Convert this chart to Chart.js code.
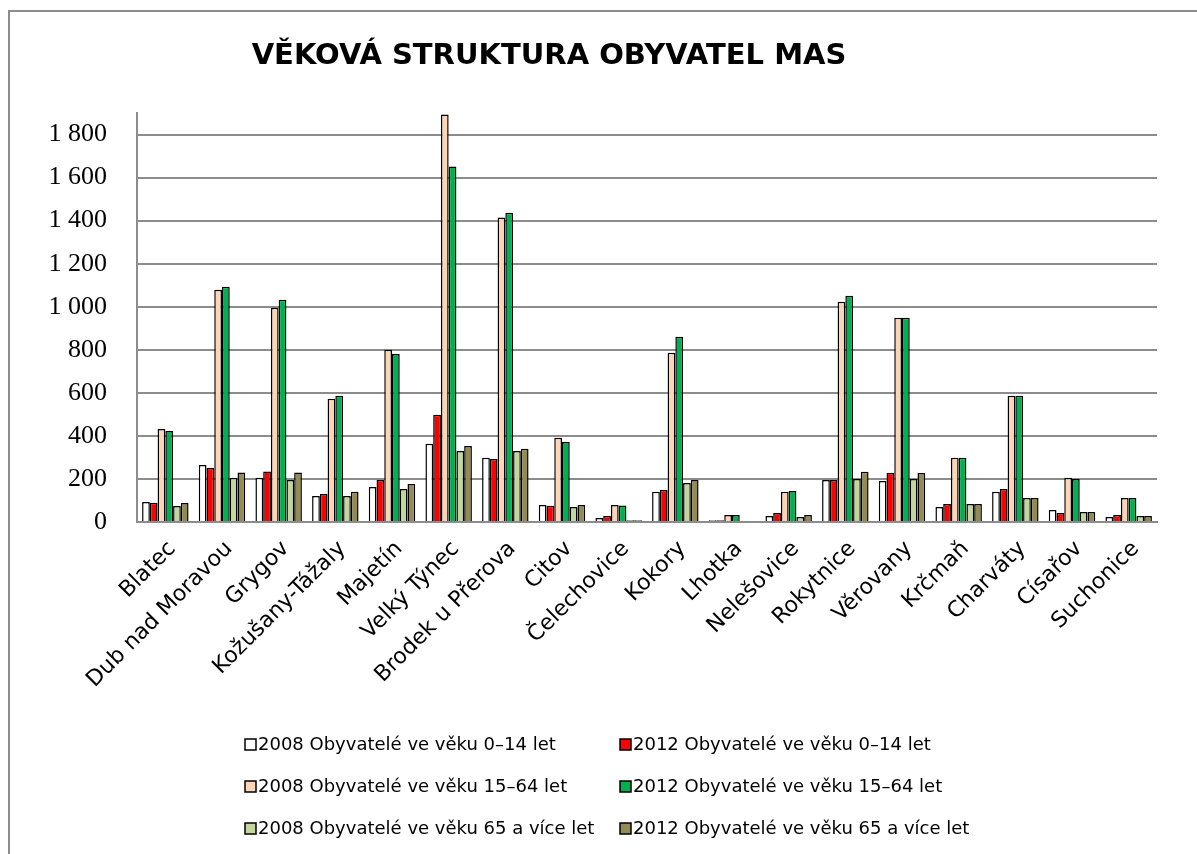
<!DOCTYPE html>
<html><head><meta charset="utf-8">
<script src="https://cdn.jsdelivr.net/npm/chart.js@4"></script>
<style>
html,body{margin:0;padding:0;background:#fff;overflow:hidden}
#wrap{position:relative;width:1197px;height:854px}
#frame{position:absolute;left:8px;top:10px;width:1300px;height:900px;border-left:2px solid #8c8c8c;border-top:2px solid #8c8c8c}
canvas{position:absolute;left:0;top:0}
</style></head><body>
<div id="wrap"><div id="frame"></div><canvas id="c" width="1197" height="854"></canvas></div>
<script>
const chartTitle = 'VĚKOVÁ STRUKTURA OBYVATEL MAS';
const categories = ['Blatec','Dub nad Moravou','Grygov','Kožušany-Tážaly','Majetín','Velký Týnec','Brodek u Přerova','Citov','Čelechovice','Kokory','Lhotka','Nelešovice','Rokytnice','Věrovany','Krčmaň','Charváty','Císařov','Suchonice'];
const seriesLabels = ['2008 Obyvatelé ve věku 0–14 let','2012 Obyvatelé ve věku 0–14 let','2008 Obyvatelé ve věku 15–64 let','2012 Obyvatelé ve věku 15–64 let','2008 Obyvatelé ve věku 65 a více let','2012 Obyvatelé ve věku 65 a více let'];
const seriesColors = ['#FFFFFF','#FF0000','#FBD5B5','#00B050','#C3D69B','#948A54'];
const age0_14_2008  = [93, 265, 205, 121, 163, 363, 298, 79, 19, 140, 8, 28, 195, 191, 70, 140, 56, 23];
const age0_14_2012  = [90, 251, 235, 130, 195, 498, 293, 76, 28, 149, 8, 42, 195, 228, 84, 153, 42, 33];
const age15_64_2008 = [432, 1079, 995, 572, 800, 1893, 1414, 391, 79, 786, 33, 140, 1023, 949, 298, 586, 205, 112];
const age15_64_2012 = [423, 1093, 1033, 586, 781, 1651, 1437, 372, 77, 861, 33, 144, 1051, 949, 298, 586, 200, 112];
const age65_2008    = [74, 205, 195, 121, 153, 330, 330, 70, 8, 181, 5, 23, 200, 200, 84, 112, 47, 28];
const age65_2012    = [88, 230, 230, 140, 177, 353, 340, 79, 8, 195, 5, 33, 233, 228, 84, 112, 47, 28];
const seriesValues = [age0_14_2008, age0_14_2012, age15_64_2008, age15_64_2012, age65_2008, age65_2012];
const yTickValues = [0, 200, 400, 600, 800, 1000, 1200, 1400, 1600, 1800];

const datasets = seriesValues.map((vals, i) => ({
  label: seriesLabels[i],
  data: vals,
  backgroundColor: seriesColors[i],
  borderColor: '#000000',
  borderWidth: 1.5,
  borderSkipped: 'bottom'
}));

const titlePlugin = {
  id: 'titleDraw',
  afterDraw(chart) {
    const ctx = chart.ctx;
    ctx.save();
    ctx.font = 'bold 29px "DejaVu Sans"';
    ctx.fillStyle = '#000';
    ctx.textAlign = 'center';
    ctx.textBaseline = 'middle';
    ctx.fillText(chartTitle, 549, 56);
    ctx.restore();
  }
};

const legendPlugin = {
  id: 'legendDraw',
  afterDraw(chart) {
    const ctx = chart.ctx;
    const colX = [245, 620];
    const rowY = [745, 787, 829];
    ctx.save();
    ctx.font = '18px "DejaVu Sans"';
    ctx.textBaseline = 'middle';
    ctx.textAlign = 'left';
    chart.data.datasets.forEach((ds, i) => {
      const x = colX[i % 2], y = rowY[Math.floor(i / 2)];
      ctx.fillStyle = ds.backgroundColor;
      ctx.fillRect(x, y - 6, 11, 11);
      ctx.strokeStyle = '#000';
      ctx.lineWidth = 1.5;
      ctx.strokeRect(x, y - 6, 11, 11);
      ctx.fillStyle = '#000';
      ctx.fillText(ds.label, x + 13, y);
    });
    ctx.restore();
  }
};

new Chart(document.getElementById('c'), {
  type: 'bar',
  data: { labels: categories, datasets },
  plugins: [titlePlugin, legendPlugin],
  options: {
    responsive: false,
    animation: false,
    devicePixelRatio: 1,
    layout: { padding: { top: 113, right: 40, bottom: 132, left: 0 } },
    datasets: { bar: { categoryPercentage: 0.82, barPercentage: 1.0 } },
    plugins: { legend: { display: false }, title: { display: false }, tooltip: { enabled: false } },
    scales: {
      x: {
        afterFit(s) { s.height = 200; },
        grid: { display: false },
        border: { color: '#8c8c8c', width: 2 },
        ticks: {
          autoSkip: false, maxRotation: 45, minRotation: 45, padding: 6, labelOffset: 7,
          color: '#000', font: { family: '"DejaVu Sans"', size: 22 }
        }
      },
      y: {
        min: 0, max: 1900,
        afterFit(s) { s.width = 137; },
        afterBuildTicks(s) { s.ticks = yTickValues.map(v => ({ value: v })); },
        grid: { color: '#8c8c8c', lineWidth: 2, drawTicks: false },
        border: { color: '#8c8c8c', width: 2 },
        ticks: {
          padding: 30, color: '#000',
          font: { family: '"Liberation Serif"', size: 26 },
          callback: v => String(v).replace(/\B(?=(\d{3})+(?!\d))/g, ' ')
        }
      }
    }
  }
});
</script>
</body></html>
